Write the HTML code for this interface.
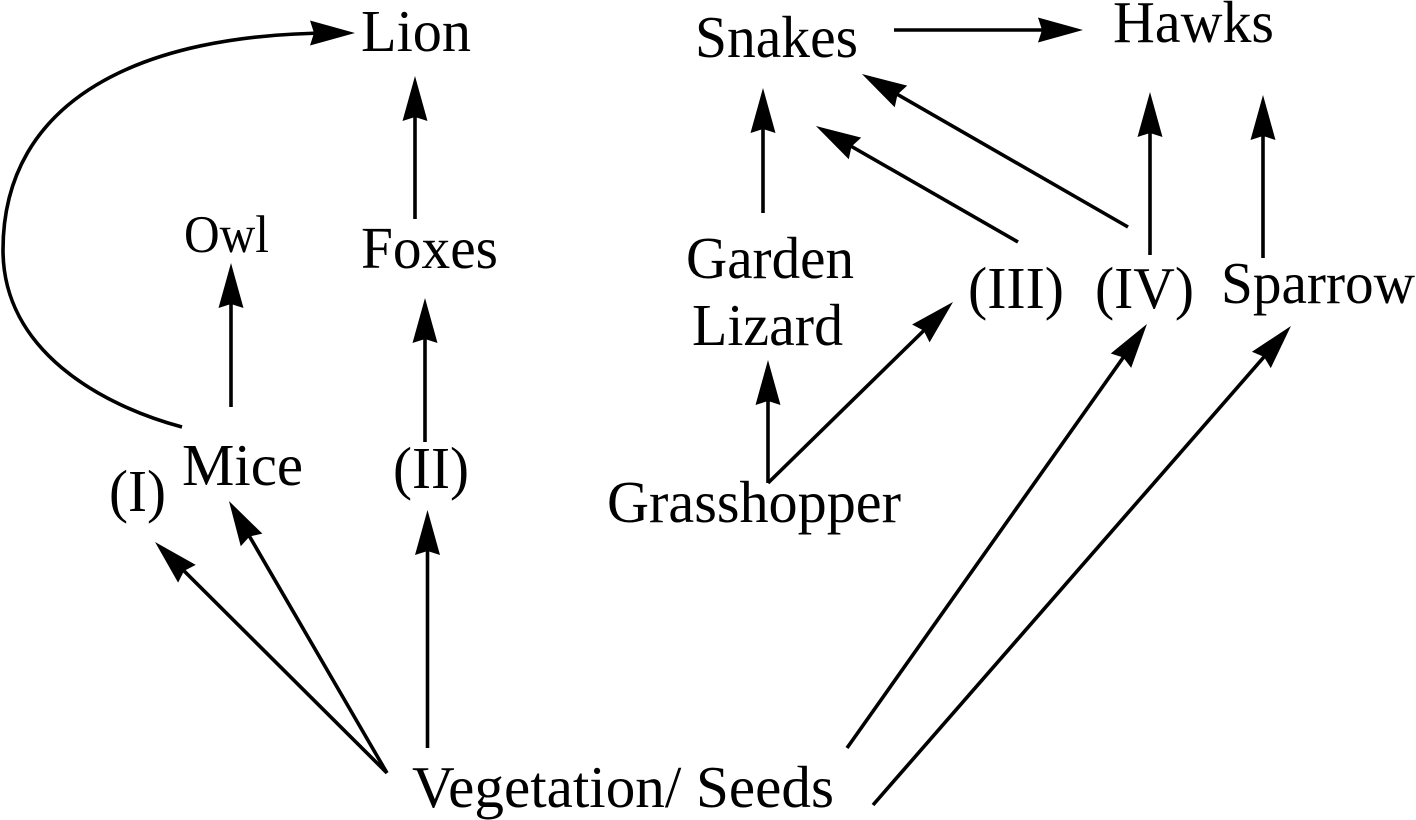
<!DOCTYPE html>
<html>
<head>
<meta charset="utf-8">
<style>
  html,body{margin:0;padding:0;background:#fff;}
  svg{display:block;}
  text{font-family:"Liberation Serif","Times New Roman",serif;font-size:59px;fill:#000;}
</style>
</head>
<body>
<svg width="1416" height="820" viewBox="0 0 1416 820" xmlns="http://www.w3.org/2000/svg">
  <defs>
    <marker id="ah" markerUnits="userSpaceOnUse" viewBox="-30 -15 52 30" markerWidth="52" markerHeight="30" refX="0" refY="0" orient="auto">
      <path d="M20,0 L-25,-12.5 L-21,0 L-25,12.5 Z" fill="#000"/>
    </marker>
  </defs>

  <!-- Labels -->
  <text x="361" y="51" textLength="110" lengthAdjust="spacingAndGlyphs">Lion</text>
  <text x="361" y="268" textLength="137" lengthAdjust="spacingAndGlyphs">Foxes</text>
  <text x="184" y="252" style="font-size:53px" textLength="85" lengthAdjust="spacingAndGlyphs">Owl</text>
  <text x="182" y="485" textLength="121" lengthAdjust="spacingAndGlyphs">Mice</text>
  <text x="109" y="511" textLength="57" lengthAdjust="spacingAndGlyphs">(I)</text>
  <text x="393" y="488" textLength="76" lengthAdjust="spacingAndGlyphs">(II)</text>
  <text x="695" y="57" textLength="163" lengthAdjust="spacingAndGlyphs">Snakes</text>
  <text x="1113" y="42" textLength="161" lengthAdjust="spacingAndGlyphs">Hawks</text>
  <text x="686" y="278" textLength="168" lengthAdjust="spacingAndGlyphs">Garden</text>
  <text x="692" y="345" textLength="151" lengthAdjust="spacingAndGlyphs">Lizard</text>
  <text x="968" y="308" textLength="96" lengthAdjust="spacingAndGlyphs">(III)</text>
  <text x="1095" y="308" textLength="99" lengthAdjust="spacingAndGlyphs">(IV)</text>
  <text x="1221" y="303" textLength="194" lengthAdjust="spacingAndGlyphs">Sparrow</text>
  <text x="607" y="522" textLength="294" lengthAdjust="spacingAndGlyphs">Grasshopper</text>
  <text x="412" y="807" textLength="422" lengthAdjust="spacingAndGlyphs">Vegetation/ Seeds</text>

  <g stroke="#000" stroke-width="3.6" fill="none">
    <!-- curve Mice -> Lion -->
    <path d="M182,427 C100,405 3,350 3,250 C3,100 140,33 335,33" marker-end="url(#ah)"/>
    <!-- Foxes -> Lion -->
    <line x1="415" y1="219" x2="415" y2="96" marker-end="url(#ah)"/>
    <!-- Mice -> Owl -->
    <line x1="231" y1="407" x2="231" y2="283" marker-end="url(#ah)"/>
    <!-- (II) -> Foxes -->
    <line x1="425" y1="442" x2="425" y2="318" marker-end="url(#ah)"/>
    <!-- Veg -> (II) -->
    <line x1="427.5" y1="748" x2="427.5" y2="530" marker-end="url(#ah)"/>
    <!-- Veg -> Mice -->
    <line x1="387" y1="773" x2="239" y2="518.3" marker-end="url(#ah)"/>
    <!-- Veg -> (I) -->
    <line x1="387" y1="773" x2="169.2" y2="556.1" marker-end="url(#ah)"/>
    <!-- Snakes -> Hawks -->
    <line x1="894" y1="30" x2="1063" y2="30" marker-end="url(#ah)"/>
    <!-- Garden Lizard -> Snakes -->
    <line x1="763" y1="213" x2="763" y2="108" marker-end="url(#ah)"/>
    <!-- (III) -> Snakes -->
    <line x1="1018" y1="242" x2="833.3" y2="136" marker-end="url(#ah)"/>
    <!-- (IV) -> Snakes -->
    <line x1="1128" y1="227" x2="879.3" y2="84" marker-end="url(#ah)"/>
    <!-- (IV) -> Hawks -->
    <line x1="1150" y1="255" x2="1150" y2="112" marker-end="url(#ah)"/>
    <!-- Sparrow -> Hawks -->
    <line x1="1263" y1="258" x2="1263" y2="115" marker-end="url(#ah)"/>
    <!-- Grasshopper -> Lizard -->
    <line x1="768" y1="483" x2="768" y2="380" marker-end="url(#ah)"/>
    <!-- Grasshopper -> (III) -->
    <line x1="768" y1="483" x2="938.7" y2="316" marker-end="url(#ah)"/>
    <!-- Veg -> (IV) -->
    <line x1="847" y1="748" x2="1135.4" y2="340.3" marker-end="url(#ah)"/>
    <!-- Veg -> Sparrow -->
    <line x1="873" y1="805" x2="1277.8" y2="341.1" marker-end="url(#ah)"/>
  </g>
</svg>
</body>
</html>
